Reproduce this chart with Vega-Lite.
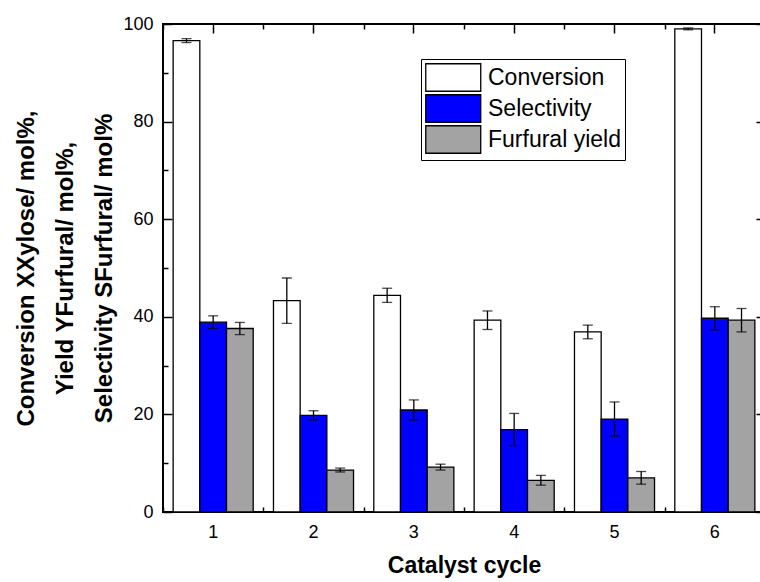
{
  "$schema": "https://vega.github.io/schema/vega-lite/v6.json",
  "width": 602,
  "height": 488,
  "autosize": {"type": "none"},
  "padding": {"left": 163, "top": 24, "right": -5, "bottom": 70},
  "background": "white",
  "config": {
    "font": "Liberation Sans",
    "view": {"stroke": "black", "strokeWidth": 2},
    "axis": {
      "grid": false,
      "domain": false,
      "tickColor": "black",
      "tickWidth": 1.5,
      "labelFont": "Liberation Sans",
      "labelColor": "black",
      "titleFont": "Liberation Sans",
      "titleColor": "black"
    }
  },
  "data": {
    "values": [
      {"cycle": "1", "series": "Conversion", "value": 96.6, "err": 0.4},
      {"cycle": "1", "series": "Selectivity", "value": 38.9, "err": 1.3},
      {"cycle": "1", "series": "Furfural yield", "value": 37.6, "err": 1.25},
      {"cycle": "2", "series": "Conversion", "value": 43.3, "err": 4.65},
      {"cycle": "2", "series": "Selectivity", "value": 19.8, "err": 0.95},
      {"cycle": "2", "series": "Furfural yield", "value": 8.6, "err": 0.4},
      {"cycle": "3", "series": "Conversion", "value": 44.4, "err": 1.45},
      {"cycle": "3", "series": "Selectivity", "value": 20.9, "err": 2.07},
      {"cycle": "3", "series": "Furfural yield", "value": 9.2, "err": 0.6},
      {"cycle": "4", "series": "Conversion", "value": 39.3, "err": 1.9},
      {"cycle": "4", "series": "Selectivity", "value": 16.9, "err": 3.3},
      {"cycle": "4", "series": "Furfural yield", "value": 6.5, "err": 1.0},
      {"cycle": "5", "series": "Conversion", "value": 36.9, "err": 1.4},
      {"cycle": "5", "series": "Selectivity", "value": 19.05, "err": 3.5},
      {"cycle": "5", "series": "Furfural yield", "value": 7.0, "err": 1.3},
      {"cycle": "6", "series": "Conversion", "value": 99.0, "err": 0.2},
      {"cycle": "6", "series": "Selectivity", "value": 39.7, "err": 2.37},
      {"cycle": "6", "series": "Furfural yield", "value": 39.3, "err": 2.4}
    ]
  },
  "layer": [
    {
      "mark": {"type": "bar", "stroke": "black", "strokeWidth": 1.3},
      "encoding": {
        "x": {
          "field": "cycle", "type": "ordinal",
          "scale": {"domain": ["1", "2", "3", "4", "5", "6"], "paddingInner": 0, "paddingOuter": 0},
          "axis": {"orient": "bottom", "title": "Catalyst cycle", "labelAngle": 0, "tickSize": -9, "labelPadding": 20, "labelFontSize": 18, "titleFontSize": 23, "titleFontWeight": "bold", "titlePadding": 13}
        },
        "xOffset": {
          "field": "series", "type": "nominal",
          "scale": {"domain": ["Conversion", "Selectivity", "Furfural yield"], "paddingInner": 0, "paddingOuter": 0.38}
        },
        "y": {
          "field": "value", "type": "quantitative",
          "scale": {"domain": [0, 100], "nice": false},
          "axis": {
            "orient": "left", "values": [0, 20, 40, 60, 80, 100], "tickSize": -9, "labelPadding": 19, "labelFontSize": 18,
            "title": ["Conversion XXylose/ mol%,", "Yield YFurfural/ mol%,", "Selectivity SFurfural/ mol%"],
            "titleFontSize": 24, "titleFontWeight": "bold", "titleLineHeight": 39, "titlePadding": 6
          }
        },
        "fill": {
          "field": "series", "type": "nominal",
          "scale": {"domain": ["Conversion", "Selectivity", "Furfural yield"], "range": ["white", "#0000ff", "#a3a3a3"]},
          "legend": {
            "orient": "none", "legendX": 258, "legendY": 35, "title": null,
            "symbolType": "M-1,-1H3V1H-1Z", "symbolSize": 756,
            "symbolStrokeColor": "black", "symbolStrokeWidth": 1.3, "symbolOpacity": 1,
            "labelFontSize": 23, "labelFont": "Liberation Sans", "labelColor": "black", "labelOffset": 34,
            "rowPadding": -2.5, "padding": 4, "strokeColor": "black", "fillColor": "white"
          }
        }
      }
    },
    {
      "mark": {"type": "errorbar", "ticks": {"size": 10, "color": "black"}, "rule": {"color": "black"}, "thickness": 1.3},
      "encoding": {
        "x": {"field": "cycle", "type": "ordinal", "axis": {"orient": "top", "labels": false, "title": null, "tickSize": -9}},
        "xOffset": {"field": "series", "type": "nominal"},
        "y": {"field": "value", "type": "quantitative", "axis": {"orient": "right", "labels": false, "title": null, "values": [0, 20, 40, 60, 80, 100], "tickSize": -9}},
        "yError": {"field": "err"}
      }
    },
    {
      "mark": {"type": "point", "opacity": 0},
      "encoding": {
        "x": {"field": "cycle", "type": "ordinal", "axis": {"orient": "bottom", "labels": false, "title": null, "tickBand": "extent", "tickSize": -5}},
        "y": {"field": "value", "type": "quantitative", "axis": {"orient": "left", "labels": false, "title": null, "values": [10, 30, 50, 70, 90], "tickSize": -5}}
      }
    },
    {
      "mark": {"type": "point", "opacity": 0},
      "encoding": {
        "x": {"field": "cycle", "type": "ordinal", "axis": {"orient": "top", "labels": false, "title": null, "tickBand": "extent", "tickSize": -5}},
        "y": {"field": "value", "type": "quantitative", "axis": {"orient": "right", "labels": false, "title": null, "values": [10, 30, 50, 70, 90], "tickSize": -5}}
      }
    }
  ],
  "resolve": {"axis": {"x": "independent", "y": "independent"}}
}
